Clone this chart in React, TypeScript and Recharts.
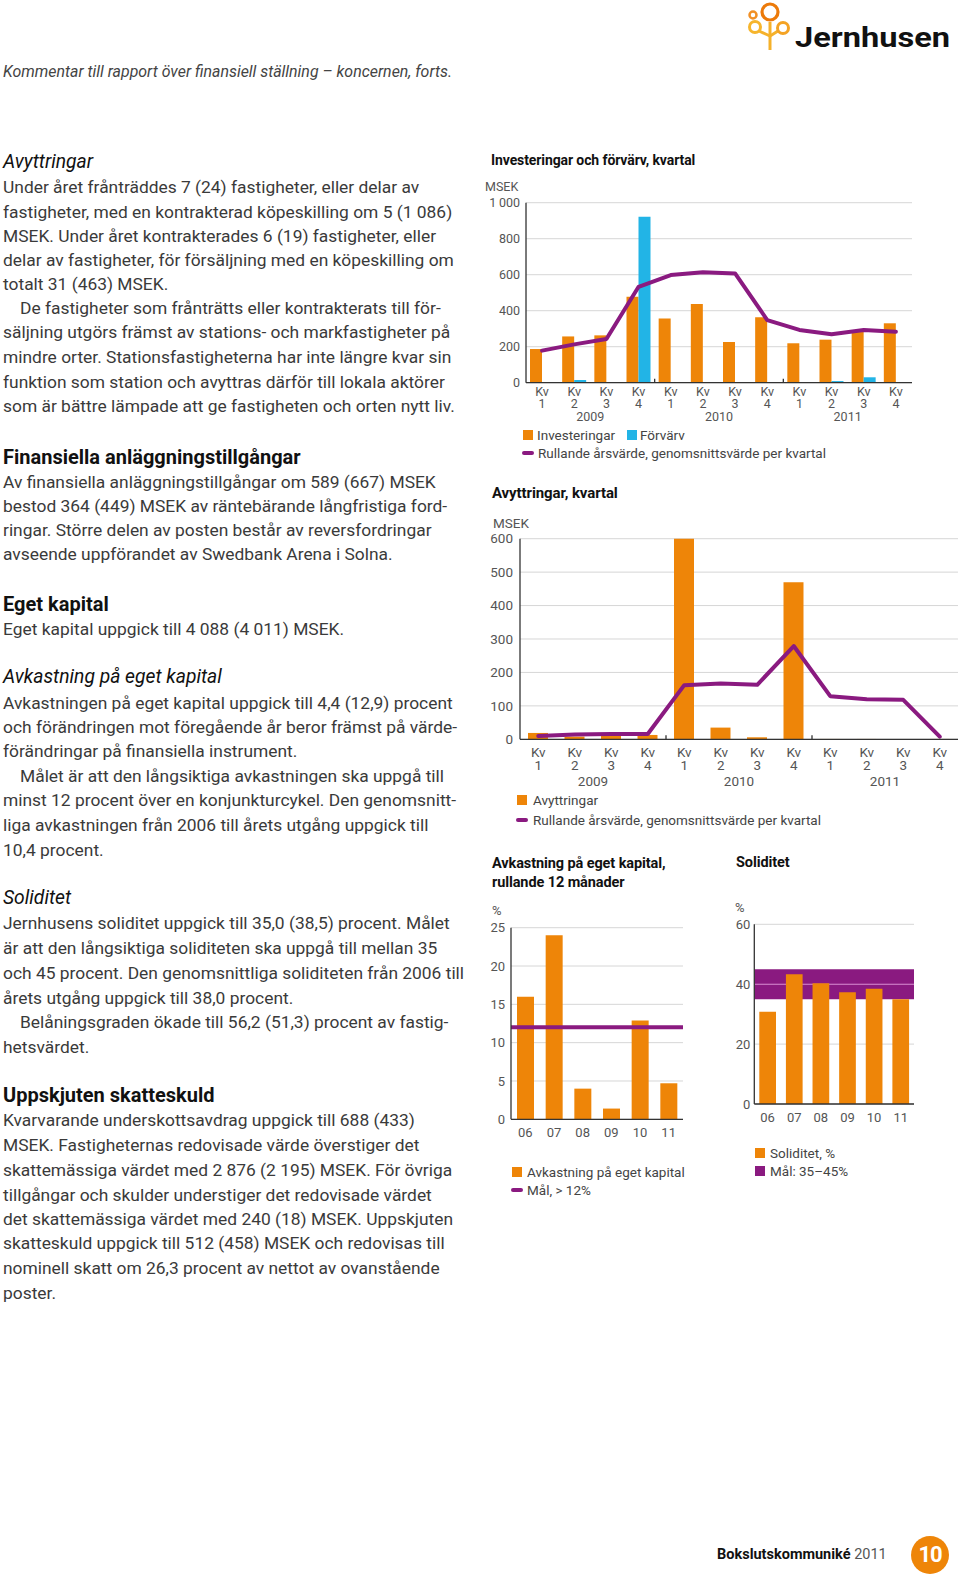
import React from 'react';
import { ComposedChart, Bar, Line, XAxis, YAxis, CartesianGrid, ReferenceLine, ReferenceArea } from 'recharts';

// ---------- DATA ----------
const quarterNums = ['1', '2', '3', '4', '1', '2', '3', '4', '1', '2', '3', '4'];
const quarterYears = ['2009', '2009', '2009', '2009', '2010', '2010', '2010', '2010', '2011', '2011', '2011', '2011'];
const investeringar = [187, 257, 263, 478, 357, 437, 226, 363, 219, 239, 289, 330];
const forvarv = [0, 15, 0, 922, 0, 0, 3, 0, 0, 9, 30, 0];
const investRullande = [178, 213, 243, 533, 598, 613, 607, 348, 293, 269, 293, 283];
const avyttringar = [19, 8, 10, 13, 600, 35, 6, 470, 1, 1, 0, 1];
const avyttRullande = [10, 14, 16, 16, 162, 167, 163, 279, 129, 120, 118, 8];
const investTicks = [0, 200, 400, 600, 800, 1000];
const avyttTicks = [0, 100, 200, 300, 400, 500, 600];

const yearLabels = ['06', '07', '08', '09', '10', '11'];
const avkastning = [16, 24, 4, 1.4, 12.9, 4.7];
const avkastningMal = 12;
const roeTicks = [0, 5, 10, 15, 20, 25];
const soliditet = [30.8, 43.3, 40.3, 37.3, 38.5, 35.0];
const solMalLow = 35;
const solMalHigh = 45;
const solTicks = [0, 20, 40, 60];

const investData = quarterNums.map((q, i) => ({
  key: quarterYears[i] + '-' + q,
  inv: investeringar[i],
  forv: forvarv[i],
  rull: investRullande[i],
}));
const avyttData = quarterNums.map((q, i) => ({
  key: quarterYears[i] + '-' + q,
  avy: avyttringar[i],
  rull: avyttRullande[i],
}));
const roeData = yearLabels.map((y, i) => ({ year: y, roe: avkastning[i] }));
const solData = yearLabels.map((y, i) => ({ year: y, sol: soliditet[i] }));

// ---------- STYLE ----------
const ORANGE = '#EE8508';
const CYAN = '#22B4E6';
const PURPLE = '#8A1A80';
const PINK = '#d98fd2';
const FONT = 'Roboto, "Open Sans", Arial, sans-serif';
const AXIS = '#333';
const GRID = '#d6d6d6';
const LABEL = '#555';

function layout(cl: number, ct: number, pl: number, pt: number, pr: number, pb: number, xh: number) {
  const width = pr - cl + 4;
  const height = pb - ct + xh;
  return {
    style: { position: 'absolute' as const, left: cl, top: ct },
    width,
    height,
    margin: { top: pt - ct, right: 4, bottom: 0, left: 0 },
    yWidth: pl - cl,
    xh,
    half: (pr - pl),
  };
}

const L1 = layout(474, 195, 526, 202.7, 912, 382.7, 50);
const L2 = layout(472, 530, 520, 538.7, 958, 739.3, 55);
const L3 = layout(470, 918, 511, 927.7, 683, 1119.3, 25);
const L4 = layout(722, 915, 754.3, 924.3, 914, 1104, 25);

const fmtK = (v: number) => (v >= 1000 ? `${Math.floor(v / 1000)}\u2009${String(v % 1000).padStart(3, '0')}` : String(v));

function QuarterTick(props: any) {
  const { x, y, payload, kvDy, numDy, yearDy, fs, plotW } = props;
  const i = props.index ?? payload.index ?? 0;
  const half = plotW / quarterNums.length / 2;
  return (
    <g>
      <text x={x} y={y + kvDy} textAnchor="middle" dominantBaseline="central" fontSize={fs} fill={LABEL} fontFamily={FONT}>Kv</text>
      <text x={x} y={y + numDy} textAnchor="middle" dominantBaseline="central" fontSize={fs} fill={LABEL} fontFamily={FONT}>{quarterNums[i]}</text>
      {quarterNums[i] === '2' && (
        <text x={x + half} y={y + yearDy} textAnchor="middle" dominantBaseline="central" fontSize={fs} fill={LABEL} fontFamily={FONT}>{quarterYears[i]}</text>
      )}
      {i > 0 && quarterNums[i] === '1' && (
        <line x1={x - half} x2={x - half} y1={y} y2={y - 4} stroke={AXIS} strokeWidth={1.3} />
      )}
    </g>
  );
}

function YearTick(props: any) {
  const { x, y, payload, dy, fs } = props;
  return (
    <text x={x} y={y + dy} textAnchor="middle" dominantBaseline="central" fontSize={fs} fill={LABEL} fontFamily={FONT}>{payload.value}</text>
  );
}

// ---------- TEXT ----------
type Ln = { t: string; y: number; k?: 'b' | 'i'; ind?: boolean };
const lines: Ln[] = [
  { t: 'Avyttringar', y: 161.7, k: 'i' },
  { t: 'Under året frånträddes 7 (24) fastigheter, eller delar av', y: 187.3 },
  { t: 'fastigheter, med en kontrakterad köpeskilling om 5 (1 086)', y: 211.7 },
  { t: 'MSEK. Under året kontrakterades 6 (19) fastigheter, eller', y: 235.7 },
  { t: 'delar av fastigheter, för försäljning med en köpeskilling om', y: 260 },
  { t: 'totalt 31 (463) MSEK.', y: 284 },
  { t: 'De fastigheter som frånträtts eller kontrakterats till för-', y: 308.3, ind: true },
  { t: 'säljning utgörs främst av stations- och markfastigheter på', y: 332.3 },
  { t: 'mindre orter. Stationsfastigheterna har inte längre kvar sin', y: 357.3 },
  { t: 'funktion som station och avyttras därför till lokala aktörer', y: 381.7 },
  { t: 'som är bättre lämpade att ge fastigheten och orten nytt liv.', y: 406 },
  { t: 'Finansiella anläggningstillgångar', y: 456.7, k: 'b' },
  { t: 'Av finansiella anläggningstillgångar om 589 (667) MSEK', y: 481.7 },
  { t: 'bestod 364 (449) MSEK av räntebärande långfristiga ford-', y: 505.7 },
  { t: 'ringar. Större delen av posten består av reversfordringar', y: 530 },
  { t: 'avseende uppförandet av Swedbank Arena i Solna.', y: 554.3 },
  { t: 'Eget kapital', y: 604, k: 'b' },
  { t: 'Eget kapital uppgick till 4 088 (4 011) MSEK.', y: 629 },
  { t: 'Avkastning på eget kapital', y: 676.7, k: 'i' },
  { t: 'Avkastningen på eget kapital uppgick till 4,4 (12,9) procent', y: 702.7 },
  { t: 'och förändringen mot föregående år beror främst på värde-', y: 726.7 },
  { t: 'förändringar på finansiella instrument.', y: 751 },
  { t: 'Målet är att den långsiktiga avkastningen ska uppgå till', y: 776, ind: true },
  { t: 'minst 12 procent över en konjunkturcykel. Den genomsnitt-', y: 800 },
  { t: 'liga avkastningen från 2006 till årets utgång uppgick till', y: 825 },
  { t: '10,4 procent.', y: 850 },
  { t: 'Soliditet', y: 898.3, k: 'i' },
  { t: 'Jernhusens soliditet uppgick till 35,0 (38,5) procent. Målet', y: 923.3 },
  { t: 'är att den långsiktiga soliditeten ska uppgå till mellan 35', y: 948.3 },
  { t: 'och 45 procent. Den genomsnittliga soliditeten från 2006 till', y: 972.7 },
  { t: 'årets utgång uppgick till 38,0 procent.', y: 997.7 },
  { t: 'Belåningsgraden ökade till 56,2 (51,3) procent av fastig-', y: 1022.3, ind: true },
  { t: 'hetsvärdet.', y: 1046.7 },
  { t: 'Uppskjuten skatteskuld', y: 1095, k: 'b' },
  { t: 'Kvarvarande underskottsavdrag uppgick till 688 (433)', y: 1120 },
  { t: 'MSEK. Fastigheternas redovisade värde överstiger det', y: 1145 },
  { t: 'skattemässiga värdet med 2 876 (2 195) MSEK. För övriga', y: 1170 },
  { t: 'tillgångar och skulder understiger det redovisade värdet', y: 1195 },
  { t: 'det skattemässiga värdet med 240 (18) MSEK. Uppskjuten', y: 1219.3 },
  { t: 'skatteskuld uppgick till 512 (458) MSEK och redovisas till', y: 1243.3 },
  { t: 'nominell skatt om 26,3 procent av nettot av ovanstående', y: 1268.3 },
  { t: 'poster.', y: 1293.3 },
];

function Txt({ x, y, children, size = 13.5, color = '#444', weight = 400, italic = false, ls = 0 }: any) {
  return (
    <div
      style={{
        position: 'absolute', left: x, top: y - 12, height: 24, lineHeight: '24px', whiteSpace: 'nowrap',
        fontSize: size, color, fontWeight: weight, fontStyle: italic ? 'italic' : 'normal', fontFamily: FONT, letterSpacing: ls,
      }}
    >
      {children}
    </div>
  );
}

function Sq({ x, y, c, w = 10, h = 10 }: any) {
  return <div style={{ position: 'absolute', left: x, top: y - h / 2, width: w, height: h, background: c }} />;
}
function LineKey({ x, y, w = 12 }: any) {
  return <div style={{ position: 'absolute', left: x, top: y - 2, width: w, height: 4, borderRadius: 2, background: PURPLE }} />;
}

export default function App() {
  return (
    <div style={{ position: 'absolute', left: 0, top: 0, width: 960, height: 1588, background: '#fff', overflow: 'hidden', fontFamily: FONT }}>
      {/* Logo */}
      <svg style={{ position: 'absolute', left: 730, top: 0 }} width={230} height={60} viewBox="730 0 230 60">
        <line x1={770} y1={22} x2={770} y2={50} stroke="#F5B12A" strokeWidth={3} />
        <line x1={770} y1={36} x2={759} y2={31} stroke="#F5B12A" strokeWidth={3} />
        <line x1={770} y1={36} x2={778} y2={31} stroke="#F5B12A" strokeWidth={3} />
        <circle cx={770} cy={12} r={8} fill="none" stroke="#EC7A0A" strokeWidth={3.2} />
        <circle cx={753} cy={15} r={3.5} fill="none" stroke="#F19026" strokeWidth={2.5} />
        <circle cx={755} cy={27} r={5.5} fill="none" stroke="#F6B52C" strokeWidth={3} />
        <circle cx={783} cy={28} r={5.5} fill="none" stroke="#F4A324" strokeWidth={3} />
        <text x={795} y={47} fontSize={27} fontWeight={700} fill="#111" fontFamily={FONT} textLength={155} lengthAdjust="spacingAndGlyphs">Jernhusen</text>
      </svg>

      <Txt x={3} y={71.7} size={15.9} color="#444" italic>Kommentar till rapport över finansiell ställning – koncernen, forts.</Txt>

      {lines.map((l, i) => (
        <Txt
          key={i}
          x={l.ind ? 20 : 3}
          y={l.y}
          size={l.k === 'b' ? 20 : l.k === 'i' ? 19.3 : 17.4}
          color={l.k ? '#111' : '#3a3a3a'}
          weight={l.k === 'b' ? 700 : 400}
          italic={l.k === 'i'}
        >
          {l.t}
        </Txt>
      ))}

      {/* Chart 1 */}
      <Txt x={491} y={160} size={14} color="#111" weight={700} ls={-0.1}>Investeringar och förvärv, kvartal</Txt>
      <Txt x={485} y={187} size={12.5} color={LABEL}>MSEK</Txt>
      <ComposedChart style={L1.style} width={L1.width} height={L1.height} margin={L1.margin} data={investData} barGap={0}>
        <CartesianGrid vertical={false} stroke={GRID} />
        <YAxis type="number" domain={[0, 1000]} ticks={investTicks} width={L1.yWidth} tickFormatter={fmtK}
          axisLine={{ stroke: AXIS, strokeWidth: 1.3 }} tickLine={false} tickSize={0} tickMargin={6}
          tick={{ fontSize: 12.5, fill: LABEL, fontFamily: FONT }} interval={0} />
        <XAxis dataKey="key" height={L1.xh} axisLine={{ stroke: AXIS, strokeWidth: 1.3 }} tickLine={false} tickSize={0} tickMargin={0} interval={0}
          tick={(p: any) => <QuarterTick {...p} kvDy={9} numDy={21.3} yearDy={34.3} fs={12.5} plotW={L1.half} />} />
        <Bar dataKey="inv" fill={ORANGE} barSize={12} isAnimationActive={false} />
        <Bar dataKey="forv" fill={CYAN} barSize={12} isAnimationActive={false} />
        <Line dataKey="rull" type="linear" stroke={PURPLE} strokeWidth={4} dot={false} strokeLinejoin="round" strokeLinecap="round" isAnimationActive={false} />
      </ComposedChart>
      <Sq x={523} y={435} c={ORANGE} />
      <Txt x={537} y={435}>Investeringar</Txt>
      <Sq x={627} y={435} c={CYAN} />
      <Txt x={640} y={435}>Förvärv</Txt>
      <LineKey x={522} y={453} />
      <Txt x={538} y={453}>Rullande årsvärde, genomsnittsvärde per kvartal</Txt>

      {/* Chart 2 */}
      <Txt x={492} y={493} size={15} color="#111" weight={700} ls={-0.1}>Avyttringar, kvartal</Txt>
      <Txt x={493} y={523} size={13.5} color={LABEL}>MSEK</Txt>
      <ComposedChart style={L2.style} width={L2.width} height={L2.height} margin={L2.margin} data={avyttData}>
        <CartesianGrid vertical={false} stroke={GRID} />
        <YAxis type="number" domain={[0, 600]} ticks={avyttTicks} width={L2.yWidth}
          axisLine={{ stroke: AXIS, strokeWidth: 1.3 }} tickLine={false} tickSize={0} tickMargin={7}
          tick={{ fontSize: 13.5, fill: LABEL, fontFamily: FONT }} interval={0} />
        <XAxis dataKey="key" height={L2.xh} axisLine={{ stroke: AXIS, strokeWidth: 1.3 }} tickLine={false} tickSize={0} tickMargin={0} interval={0}
          tick={(p: any) => <QuarterTick {...p} kvDy={12.4} numDy={25.7} yearDy={41.4} fs={13.5} plotW={L2.half} />} />
        <Bar dataKey="avy" fill={ORANGE} barSize={20} isAnimationActive={false} />
        <Line dataKey="rull" type="linear" stroke={PURPLE} strokeWidth={4} dot={false} strokeLinejoin="round" strokeLinecap="round" isAnimationActive={false} />
      </ComposedChart>
      <Sq x={517} y={800} c={ORANGE} />
      <Txt x={533} y={800} size={13.5}>Avyttringar</Txt>
      <LineKey x={516} y={820} />
      <Txt x={533} y={820} size={13.5}>Rullande årsvärde, genomsnittsvärde per kvartal</Txt>

      {/* Chart 3 */}
      <Txt x={492} y={864} size={14.5} color="#111" weight={700} ls={-0.1}>Avkastning på eget kapital,</Txt>
      <Txt x={492} y={882.7} size={14.5} color="#111" weight={700} ls={-0.1}>rullande 12 månader</Txt>
      <Txt x={492} y={910.7} size={13} color={LABEL}>%</Txt>
      <ComposedChart style={L3.style} width={L3.width} height={L3.height} margin={L3.margin} data={roeData}>
        <CartesianGrid vertical={false} stroke={GRID} />
        <YAxis type="number" domain={[0, 25]} ticks={roeTicks} width={L3.yWidth}
          axisLine={{ stroke: AXIS, strokeWidth: 1.3 }} tickLine={false} tickSize={0} tickMargin={6}
          tick={{ fontSize: 13, fill: LABEL, fontFamily: FONT }} interval={0} />
        <XAxis dataKey="year" height={L3.xh} axisLine={{ stroke: AXIS, strokeWidth: 1.3 }} tickLine={false} tickSize={0} tickMargin={0} interval={0}
          tick={(p: any) => <YearTick {...p} dy={13.7} fs={13} />} />
        <Bar dataKey="roe" fill={ORANGE} barSize={17} isAnimationActive={false} />
        <ReferenceLine y={avkastningMal} stroke={PURPLE} strokeWidth={4} />
      </ComposedChart>
      <Sq x={512} y={1172} c={ORANGE} />
      <Txt x={527} y={1172} size={13.5}>Avkastning på eget kapital</Txt>
      <LineKey x={511} y={1190} />
      <Txt x={527} y={1190} size={13.5}>Mål, &gt; 12%</Txt>

      {/* Chart 4 */}
      <Txt x={736} y={863.3} size={14.5} color="#111" weight={700} ls={-0.1}>Soliditet</Txt>
      <Txt x={735} y={907.7} size={13} color={LABEL}>%</Txt>
      <ComposedChart style={L4.style} width={L4.width} height={L4.height} margin={L4.margin} data={solData}>
        <CartesianGrid vertical={false} stroke={GRID} />
        <ReferenceArea y1={solMalLow} y2={solMalHigh} fill={PURPLE} fillOpacity={1} stroke="none" />
        <ReferenceArea y1={39.85} y2={40.15} fill={PINK} fillOpacity={1} stroke="none" />
        <YAxis type="number" domain={[0, 60]} ticks={solTicks} width={L4.yWidth}
          axisLine={{ stroke: AXIS, strokeWidth: 1.3 }} tickLine={false} tickSize={0} tickMargin={4}
          tick={{ fontSize: 13, fill: LABEL, fontFamily: FONT }} interval={0} />
        <XAxis dataKey="year" height={L4.xh} axisLine={{ stroke: AXIS, strokeWidth: 1.3 }} tickLine={false} tickSize={0} tickMargin={0} interval={0}
          tick={(p: any) => <YearTick {...p} dy={13.3} fs={13} />} />
        <Bar dataKey="sol" fill={ORANGE} barSize={16.7} isAnimationActive={false} />
      </ComposedChart>
      <Sq x={755} y={1153} c={ORANGE} />
      <Txt x={770} y={1153} size={13.5}>Soliditet, %</Txt>
      <Sq x={755} y={1171} c={PURPLE} />
      <Txt x={770} y={1171} size={13.5}>Mål: 35–45%</Txt>

      {/* Footer */}
      <div style={{ position: 'absolute', left: 717, top: 1545, height: 20, lineHeight: '20px', fontSize: 14.5, color: '#111', fontFamily: FONT, whiteSpace: 'nowrap' }}>
        <span style={{ fontWeight: 700 }}>Bokslutskommuniké</span>
        <span style={{ color: '#555' }}> 2011</span>
      </div>
      <div style={{ position: 'absolute', left: 911, top: 1536, width: 38, height: 38, borderRadius: 19, background: ORANGE, color: '#fff', fontFamily: FONT, fontWeight: 700, fontSize: 22, lineHeight: '38px', textAlign: 'center', letterSpacing: -1 }}>10</div>
    </div>
  );
}
